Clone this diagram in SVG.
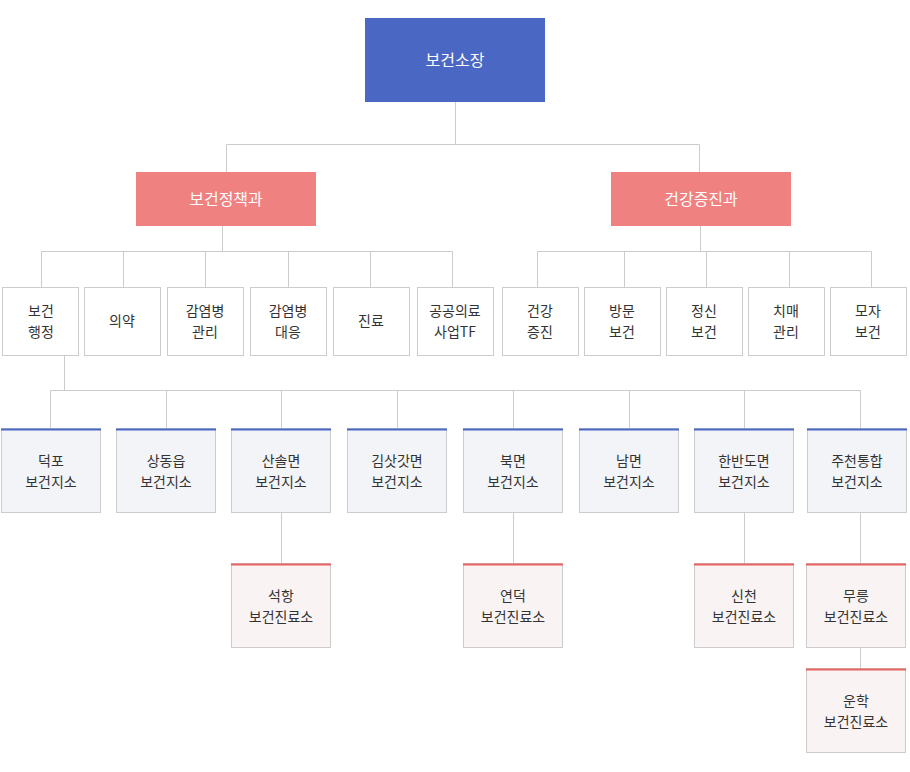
<svg xmlns="http://www.w3.org/2000/svg" width="910" height="772" viewBox="0 0 910 772">
<style>
text{font-family:"Noto Sans CJK KR","Noto Sans",sans-serif;font-size:14px;fill:#333;text-anchor:middle}
.w{fill:#fff;font-size:16px}
.b{fill:#fff;stroke:#ccc;stroke-width:1}
.s{fill:#f3f4f8;stroke:#ccc}
.r{fill:#f9f3f3;stroke:#ccc}
.c{stroke:#ccc;stroke-width:1;fill:none}
</style>
<rect width="910" height="772" fill="#fff"/>
<g id="connectors" class="c">
<path d="M455.5 102V144.5M226.5 172V144.5H699.5V172"/>
<path d="M222.5 226V251.5M41.5 287V251.5H452.5V287M123.5 251V287M205.5 251V287M288.5 251V287M370.5 251V287"/>
<path d="M700.5 226V251.5M537.5 287V251.5H871.5V287M624.5 251V287M706.5 251V287M789.5 251V287"/>
<path d="M64.5 355V390.5M50.5 428V390.5H860.5V428M166.5 390V428M281.5 390V428M397.5 390V428M513.5 390V428M629.5 390V428M744.5 390V428"/>
<path d="M281.5 512V563M513.5 512V563M744.5 512V563M860.5 512V563M860.5 647V668"/>
</g>
<g id="n0"><rect x="365" y="18" width="180" height="84" fill="#4a67c4"/><text class="w" x="455" y="66">보건소장</text></g>
<g id="n1"><rect x="136" y="172" width="180" height="54" fill="#ef8180"/><text class="w" x="226" y="205">보건정책과</text></g>
<g id="n2"><rect x="611" y="172" width="180" height="54" fill="#ef8180"/><text class="w" x="701" y="205">건강증진과</text></g>
<g id="l3">
<g id="a1"><rect class="b" x="2.5" y="287.5" width="76" height="68"/><text x="41" y="316">보건</text><text x="41" y="337">행정</text></g>
<g id="a2"><rect class="b" x="84.5" y="287.5" width="76" height="68"/><text x="122" y="326">의약</text></g>
<g id="a3"><rect class="b" x="167.5" y="287.5" width="76" height="68"/><text x="205" y="316">감염병</text><text x="205" y="337">관리</text></g>
<g id="a4"><rect class="b" x="250.5" y="287.5" width="76" height="68"/><text x="288" y="316">감염병</text><text x="288" y="337">대응</text></g>
<g id="a5"><rect class="b" x="333.5" y="287.5" width="76" height="68"/><text x="371" y="326">진료</text></g>
<g id="a6"><rect class="b" x="417.5" y="287.5" width="76" height="68"/><text x="455" y="316">공공의료</text><text x="455" y="337">사업TF</text></g>
<g id="a7"><rect class="b" x="502.5" y="287.5" width="76" height="68"/><text x="540" y="316">건강</text><text x="540" y="337">증진</text></g>
<g id="a8"><rect class="b" x="584.5" y="287.5" width="76" height="68"/><text x="622" y="316">방문</text><text x="622" y="337">보건</text></g>
<g id="a9"><rect class="b" x="666.5" y="287.5" width="76" height="68"/><text x="704" y="316">정신</text><text x="704" y="337">보건</text></g>
<g id="a10"><rect class="b" x="748.5" y="287.5" width="76" height="68"/><text x="786" y="316">치매</text><text x="786" y="337">관리</text></g>
<g id="a11"><rect class="b" x="830.5" y="287.5" width="76" height="68"/><text x="868" y="316">모자</text><text x="868" y="337">보건</text></g>
</g>
<g id="l4">
<g id="b1"><rect class="s" x="1.5" y="428.5" width="99" height="84"/><path d="M1 429.5H101" stroke="#4a67c4" stroke-width="2"/><text x="51" y="466">덕포</text><text x="51" y="487">보건지소</text></g>
<g id="b2"><rect class="s" x="116.5" y="428.5" width="99" height="84"/><path d="M116 429.5H216" stroke="#4a67c4" stroke-width="2"/><text x="166" y="466">상동읍</text><text x="166" y="487">보건지소</text></g>
<g id="b3"><rect class="s" x="231.5" y="428.5" width="99" height="84"/><path d="M231 429.5H331" stroke="#4a67c4" stroke-width="2"/><text x="281" y="466">산솔면</text><text x="281" y="487">보건지소</text></g>
<g id="b4"><rect class="s" x="347.5" y="428.5" width="99" height="84"/><path d="M347 429.5H447" stroke="#4a67c4" stroke-width="2"/><text x="397" y="466">김삿갓면</text><text x="397" y="487">보건지소</text></g>
<g id="b5"><rect class="s" x="463.5" y="428.5" width="99" height="84"/><path d="M463 429.5H563" stroke="#4a67c4" stroke-width="2"/><text x="513" y="466">북면</text><text x="513" y="487">보건지소</text></g>
<g id="b6"><rect class="s" x="579.5" y="428.5" width="99" height="84"/><path d="M579 429.5H679" stroke="#4a67c4" stroke-width="2"/><text x="629" y="466">남면</text><text x="629" y="487">보건지소</text></g>
<g id="b7"><rect class="s" x="694.5" y="428.5" width="99" height="84"/><path d="M694 429.5H794" stroke="#4a67c4" stroke-width="2"/><text x="744" y="466">한반도면</text><text x="744" y="487">보건지소</text></g>
<g id="b8"><rect class="s" x="807.5" y="428.5" width="99" height="84"/><path d="M807 429.5H907" stroke="#4a67c4" stroke-width="2"/><text x="857" y="466">주천통합</text><text x="857" y="487">보건지소</text></g>
</g>
<g id="l5">
<g id="c1"><rect class="r" x="231.5" y="563.5" width="99" height="84"/><path d="M231 564.5H331" stroke="#e86262" stroke-width="2"/><text x="281" y="601">석항</text><text x="281" y="622">보건진료소</text></g>
<g id="c2"><rect class="r" x="463.5" y="563.5" width="99" height="84"/><path d="M463 564.5H563" stroke="#e86262" stroke-width="2"/><text x="513" y="601">연덕</text><text x="513" y="622">보건진료소</text></g>
<g id="c3"><rect class="r" x="694.5" y="563.5" width="99" height="84"/><path d="M694 564.5H794" stroke="#e86262" stroke-width="2"/><text x="744" y="601">신천</text><text x="744" y="622">보건진료소</text></g>
<g id="c4"><rect class="r" x="806.5" y="563.5" width="99" height="84"/><path d="M806 564.5H906" stroke="#e86262" stroke-width="2"/><text x="856" y="601">무릉</text><text x="856" y="622">보건진료소</text></g>
<g id="c5"><rect class="r" x="806.5" y="668.5" width="99" height="84"/><path d="M806 669.5H906" stroke="#e86262" stroke-width="2"/><text x="856" y="706">운학</text><text x="856" y="727">보건진료소</text></g>
</g>
</svg>
